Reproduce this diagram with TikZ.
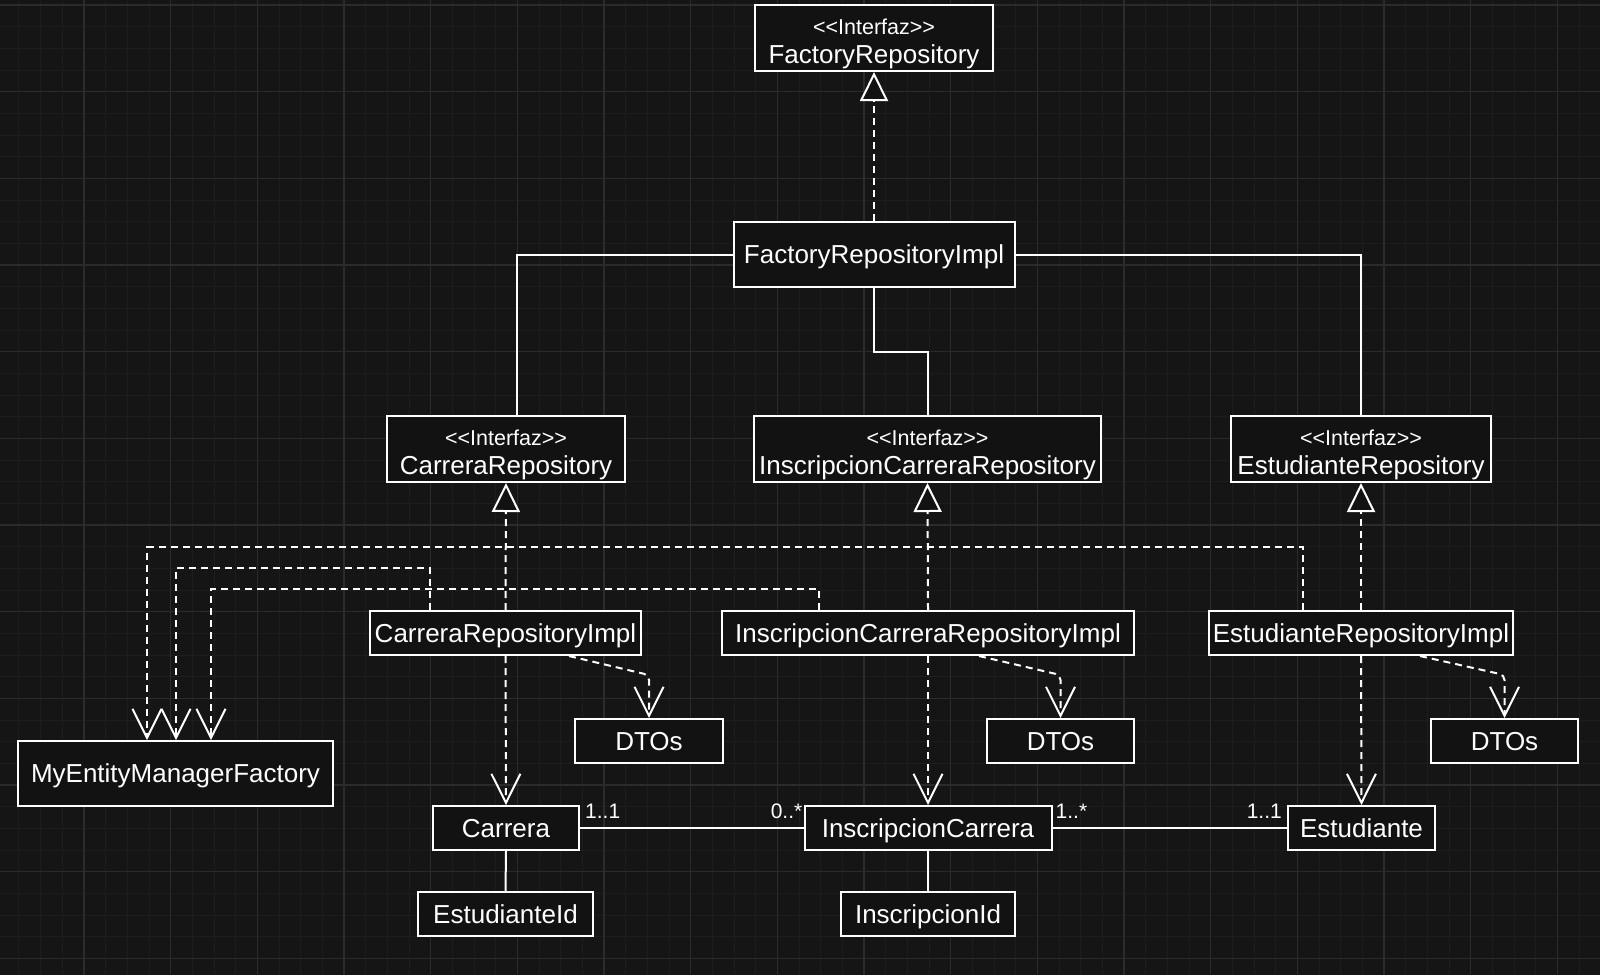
\documentclass[tikz,border=0pt]{standalone}
\usepackage{fontspec}
\setmainfont{Liberation Sans}
\usetikzlibrary{arrows.meta}
\definecolor{bg}{HTML}{151515}
\definecolor{boxbg}{HTML}{121212}
\definecolor{gridminor}{HTML}{1D1D1D}
\definecolor{gridmajor}{HTML}{2B2B2B}
\tikzset{
 box/.style={draw=white, line width=2pt, fill=boxbg, text=white, inner sep=0pt,
   font=\fontsize{26}{30}\selectfont, text height=18.6pt, text depth=0pt, minimum height=44pt},
 txt/.style={text=white, inner sep=0pt, font=\fontsize{26}{30}\selectfont, text height=18.6pt, text depth=0pt},
 stereo/.style={text=white, inner sep=0pt, font=\fontsize{21.5}{24}\selectfont, text height=15.4pt, text depth=0pt},
 mult/.style={text=white, inner sep=0pt, font=\fontsize{21}{24}\selectfont, text height=15pt, text depth=0pt},
 conn/.style={draw=white, line width=2pt},
 dep/.style={conn, dash pattern=on 7pt off 5pt, -{Straight Barb[length=29pt,width=29pt]}},
 real/.style={conn, dash pattern=on 7pt off 5pt, -{Triangle[length=29pt,width=28pt,fill=boxbg]}},
 minorgrid/.style={draw=gridminor, line width=1pt},
 majorgrid/.style={draw=gridmajor, line width=1.5pt},
}
\begin{document}
\begin{tikzpicture}[x=1pt,y=-1pt]
\useasboundingbox (0,0) rectangle (1600,975);
\fill[bg] (0,0) rectangle (1600,975);
% grid
\foreach \i in {0,...,74} \draw[minorgrid] ({-2.67+21.667*\i},0) -- ++(0,975);
\foreach \j in {0,...,45} \draw[minorgrid] (0,{5-21.667+21.667*\j}) -- ++(1600,0);
\foreach \i in {0,...,18} \draw[majorgrid] ({-2.67+86.667*\i},0) -- ++(0,975);
\foreach \j in {0,...,11} \draw[majorgrid] (0,{5+86.667*\j}) -- ++(1600,0);

% interfaces
\node[box, minimum width=238pt, minimum height=66pt] (fr) at (874,38) {};
\node[stereo] (frs) at ([yshift=11.5pt]fr.center) {<\kern0pt<Interfaz>\kern0pt>};
\node[txt] (frn) at ([yshift=-16.5pt]fr.center) {FactoryRepository};

\node[box, minimum width=281pt, minimum height=65pt] (fri) at (874,254.5) {FactoryRepositoryImpl};

\node[box, minimum width=238pt, minimum height=66pt] (cr) at (506,449) {};
\node[stereo] (crs) at ([yshift=11.5pt]cr.center) {<\kern0pt<Interfaz>\kern0pt>};
\node[txt] (crn) at ([yshift=-16.5pt]cr.center) {CarreraRepository};

\node[box, minimum width=347pt, minimum height=66pt] (icr) at (927.5,449) {};
\node[stereo] (icrs) at ([yshift=11.5pt]icr.center) {<\kern0pt<Interfaz>\kern0pt>};
\node[txt] (icrn) at ([yshift=-16.5pt]icr.center) {InscripcionCarreraRepository};

\node[box, minimum width=260pt, minimum height=66pt] (er) at (1361,449) {};
\node[stereo] (ers) at ([yshift=11.5pt]er.center) {<\kern0pt<Interfaz>\kern0pt>};
\node[txt] (ern) at ([yshift=-16.5pt]er.center) {EstudianteRepository};

% impls
\node[box, minimum width=271pt] (cri) at (505.5,633) {CarreraRepositoryImpl};
\node[box, minimum width=412pt] (icri) at (928,633) {InscripcionCarreraRepositoryImpl};
\node[box, minimum width=304pt] (eri) at (1361,633) {EstudianteRepositoryImpl};

% DTOs
\node[box, minimum width=148pt] (dto1) at (649,741) {DTOs};
\node[box, minimum width=147pt] (dto2) at (1060.5,741) {DTOs};
\node[box, minimum width=147pt] (dto3) at (1504.5,741) {DTOs};

\node[box, minimum width=315pt, minimum height=65pt] (memf) at (175.5,773.5) {MyEntityManagerFactory};

% entities
\node[box, minimum width=146pt] (car) at (506,828) {Carrera};
\node[box, minimum width=247pt] (ic) at (928,828) {InscripcionCarrera};
\node[box, minimum width=147pt] (est) at (1361.5,828) {Estudiante};
\node[box, minimum width=175pt] (eid) at (505.5,914) {EstudianteId};
\node[box, minimum width=174pt] (iid) at (928,914) {InscripcionId};

% realization
\draw[real] (fri.north) -- (fr.south);
\draw[real] (cri.north) -- (cr.south);
\draw[real] (icri.north) -- (icr.south);
\draw[real] (eri.north) -- (er.south);

% factory impl links
\coordinate (j1) at (874,352);
\draw[conn] (fri.west) -| ([xshift=11pt]cr.north);
\draw[conn] (fri.south) -- (j1) -| (icr.north);
\draw[conn] (fri.east) -| (er.north);

% dependencies to entities
\draw[dep] (cri.south) -- (car.north);
\draw[dep] (icri.south) -- (ic.north);
\draw[dep] (eri.south) -- (est.north);

% dependencies to DTOs
\draw[dep, rounded corners=5pt] ([xshift=63.5pt]cri.south) -- ([yshift=43pt]dto1.north) -- (dto1.north);
\draw[dep, rounded corners=5pt] ([xshift=51pt]icri.south) -- ([yshift=43pt]dto2.north) -- (dto2.north);
\draw[dep, rounded corners=5pt] ([xshift=59pt]eri.south) -- ([yshift=43pt]dto3.north) -- (dto3.north);

% dependencies to MyEntityManagerFactory
\coordinate (o1) at (147,547);
\coordinate (o2) at (176,568);
\coordinate (o3) at (211,589);
\draw[dep] ([xshift=-58.5pt]eri.north) |- (o1) -- ([xshift=-28.5pt]memf.north);
\draw[dep] ([xshift=-75.5pt]cri.north) |- (o2) -- ([xshift=0.5pt]memf.north);
\draw[dep] ([xshift=-109pt]icri.north) |- (o3) -- ([xshift=35.5pt]memf.north);

% associations
\draw[conn] (car.east) -- (ic.west);
\draw[conn] (ic.east) -- (est.west);
\draw[conn] (car.south) -- (eid.north);
\draw[conn] (ic.south) -- (iid.north);

\node[mult, anchor=west] (m1) at ([xshift=5pt,yshift=17pt]car.east) {1..1};
\node[mult, anchor=east] (m2) at ([xshift=-1pt,yshift=17pt]ic.west) {0..*};
\node[mult, anchor=west] (m3) at ([xshift=3pt,yshift=17pt]ic.east) {1..*};
\node[mult, anchor=east] (m4) at ([xshift=-5pt,yshift=17pt]est.west) {1..1};
\end{tikzpicture}
\end{document}
